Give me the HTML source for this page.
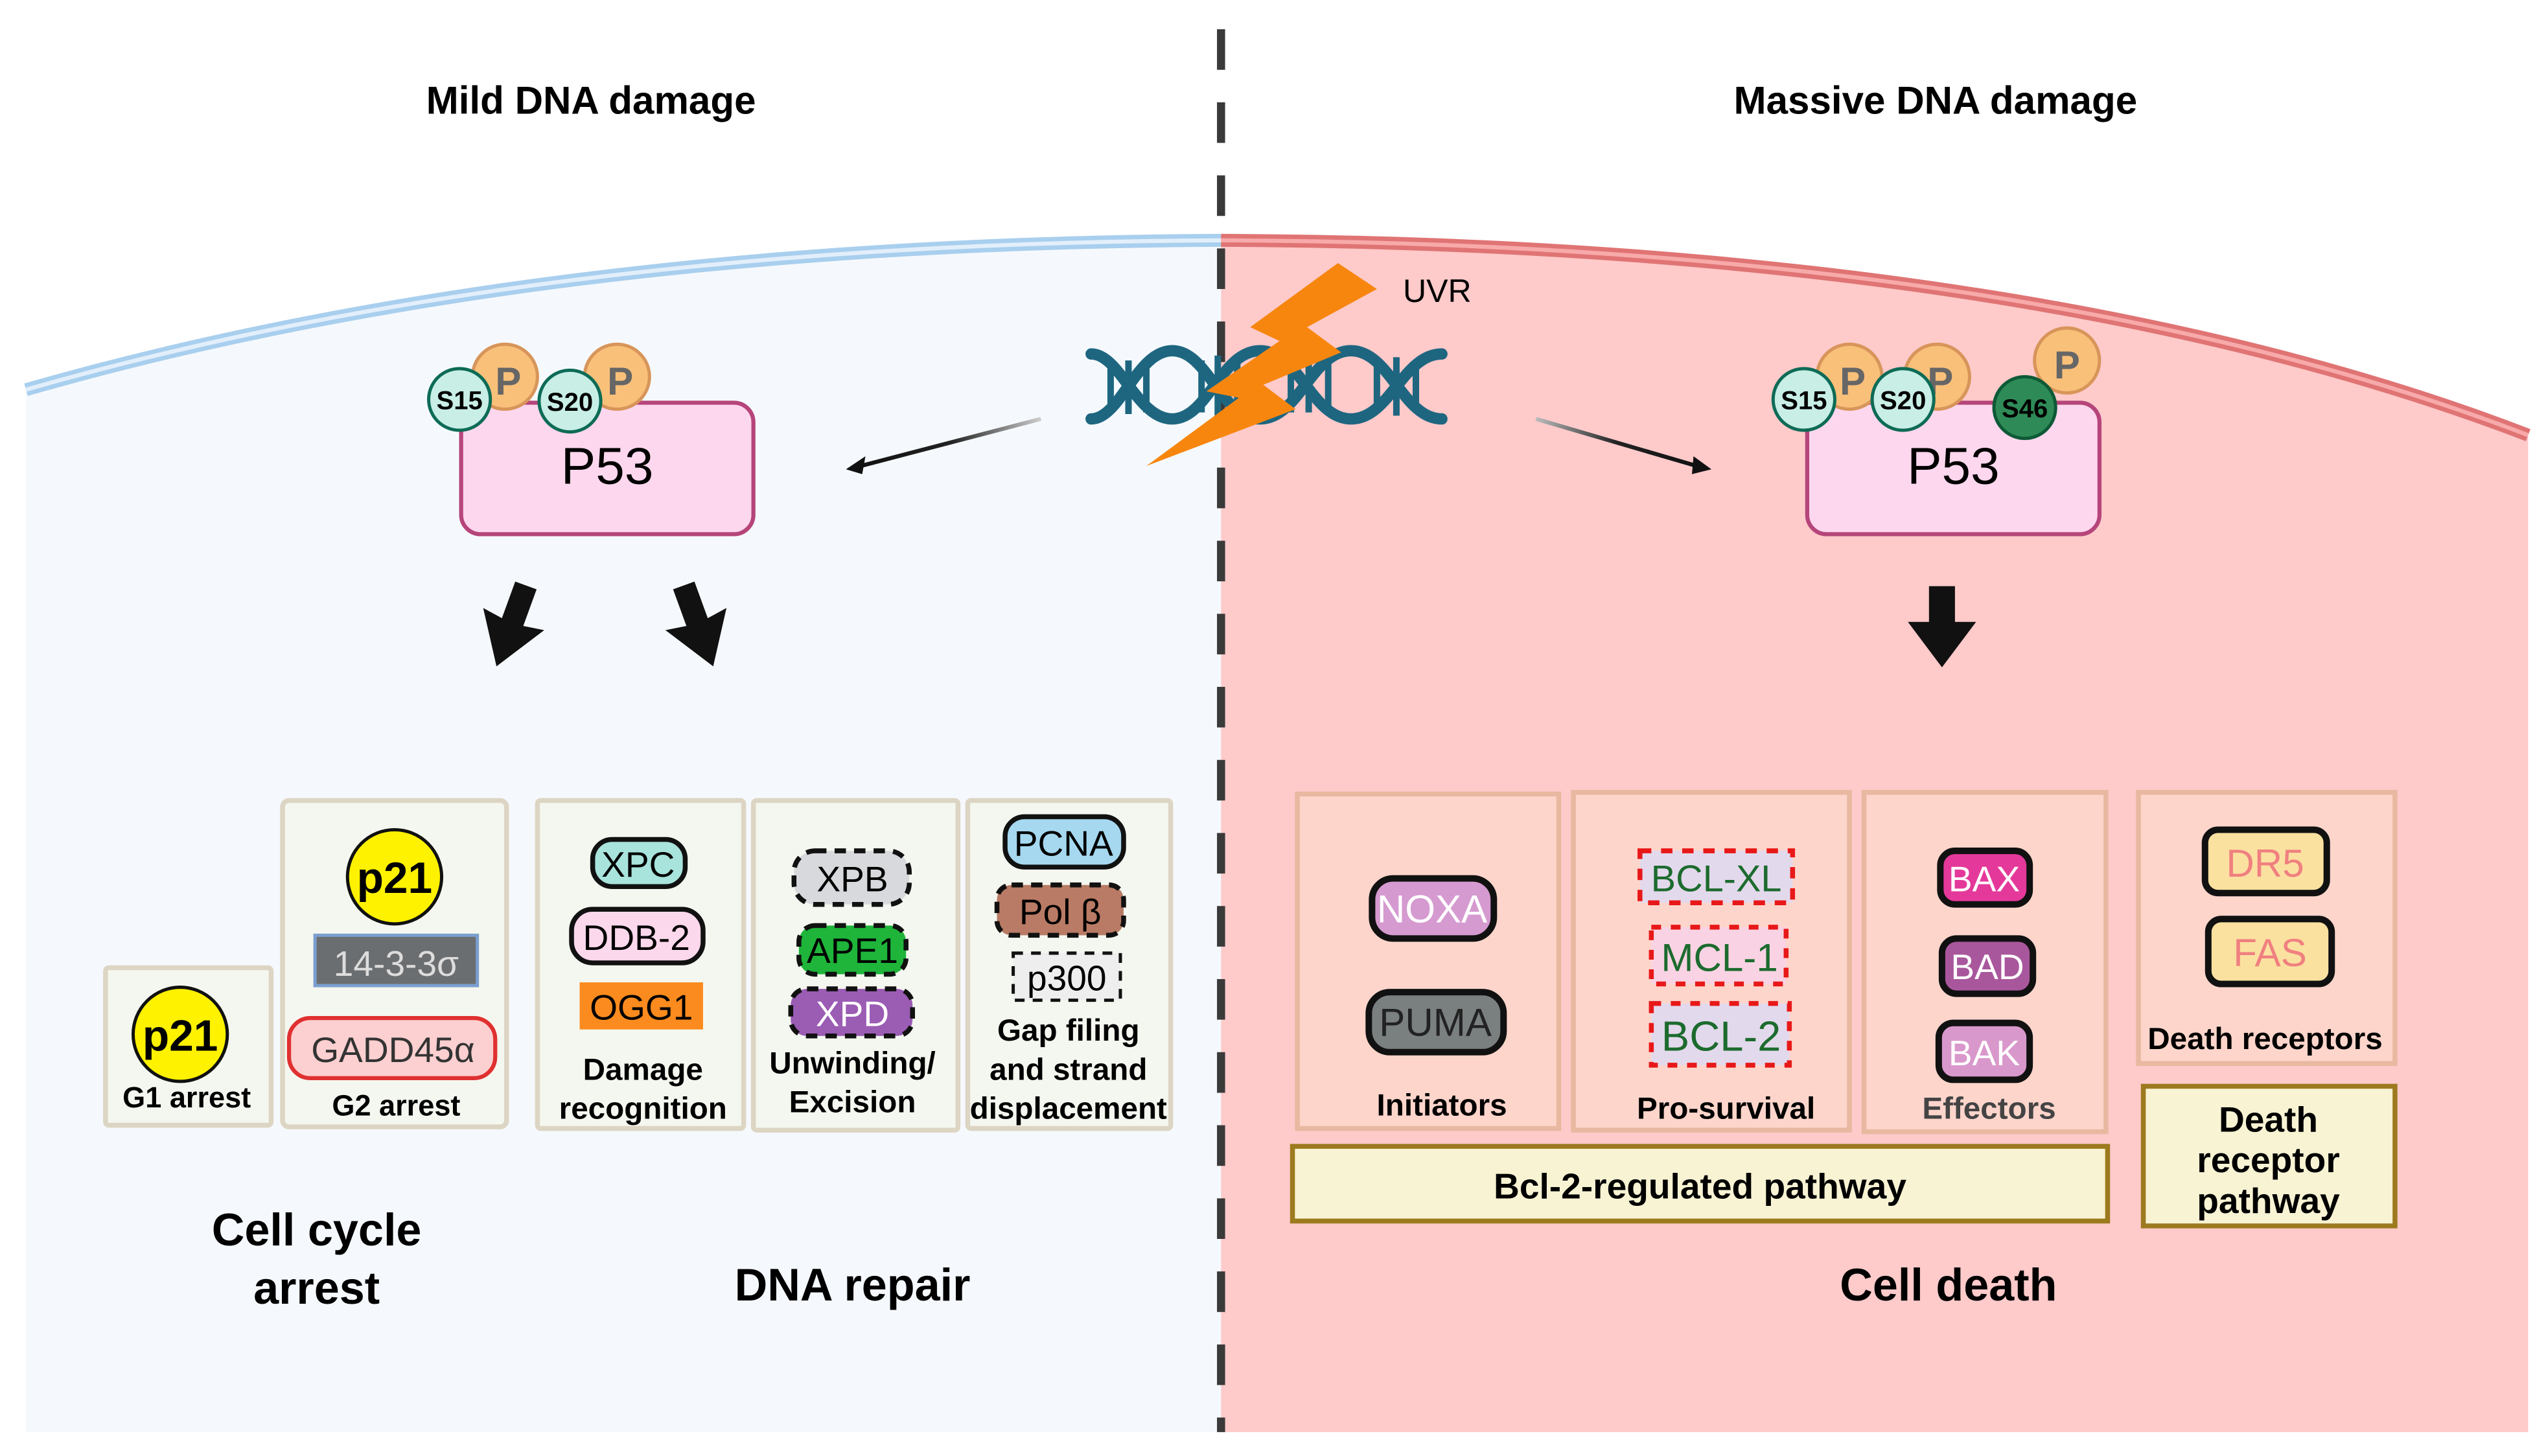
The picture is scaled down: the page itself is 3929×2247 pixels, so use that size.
<!DOCTYPE html>
<html><head><meta charset="utf-8"><style>
html,body{margin:0;padding:0;background:#fff;}
svg{display:block;}
text{font-family:"Liberation Sans Narrow","Liberation Sans",sans-serif;}
</style></head><body>
<svg width="3929" height="2247" viewBox="0 0 1568 896.7" preserveAspectRatio="none" xmlns="http://www.w3.org/2000/svg">
<defs>
<linearGradient id="gl" x1="1" y1="0" x2="0" y2="0"><stop offset="0" stop-color="#ccc"/><stop offset="0.5" stop-color="#222"/><stop offset="1" stop-color="#111"/></linearGradient>
<linearGradient id="gr" x1="0" y1="0" x2="1" y2="0"><stop offset="0" stop-color="#bbb"/><stop offset="0.5" stop-color="#222"/><stop offset="1" stop-color="#111"/></linearGradient>
</defs>
<rect width="1568" height="897" fill="#fff"/>
<!-- cell regions -->
<path d="M16,240 Q330,150 752,148 L752,882 L16,882 Z" fill="#f5f9fd"/>
<path d="M752,148 Q1250,150 1557,268 L1557,882 L752,882 Z" fill="#fecaca"/>
<path d="M16,240 Q330,150 752,148" fill="none" stroke="#a9cfee" stroke-width="8"/>
<path d="M16,240 Q330,150 752,148" fill="none" stroke="#e2effb" stroke-width="2.5"/>
<path d="M752,148 Q1250,150 1557,268" fill="none" stroke="#e07474" stroke-width="8"/>
<path d="M752,148 Q1250,150 1557,268" fill="none" stroke="#f8aaaa" stroke-width="2.5"/>
<!-- dashed divider -->
<line x1="752" y1="18" x2="752" y2="882" stroke="#3a3a3a" stroke-width="5" stroke-dasharray="25,20"/>
<!-- titles -->
<text x="364" y="70" font-size="24" font-weight="bold" text-anchor="middle">Mild DNA damage</text>
<text x="1192" y="70" font-size="24" font-weight="bold" text-anchor="middle">Massive DNA damage</text>
<!-- DNA -->
<g fill="none" stroke="#1e6680" stroke-width="7" stroke-linecap="round">
<path d="M672,218 C690,218 700,258 722,258 C744,258 752,216 776,216 C800,216 808,258 832,258 C856,258 864,218 888,218"/>
<path d="M672,258 C690,258 700,216 722,216 C744,216 752,258 776,258 C800,258 808,216 832,216 C856,216 864,258 888,258"/>
</g>
<g stroke="#1e6680" stroke-width="4">
<line x1="684" y1="226" x2="684" y2="250"/><line x1="695" y1="222" x2="695" y2="255"/><line x1="706" y1="222" x2="706" y2="254"/>
<line x1="740" y1="222" x2="740" y2="254"/><line x1="750" y1="219" x2="750" y2="256"/><line x1="762" y1="222" x2="762" y2="254"/>
<line x1="795" y1="222" x2="795" y2="254"/><line x1="806" y1="222" x2="806" y2="254"/><line x1="818" y1="222" x2="818" y2="254"/>
<line x1="848" y1="222" x2="848" y2="254"/><line x1="860" y1="220" x2="860" y2="256"/><line x1="872" y1="224" x2="872" y2="252"/>
</g>
<!-- lightning -->
<polygon points="824,162 848,178 805,201.5 826,217 778,237 798,252 706,287 763,245 743,241 788,210 770,201.5" fill="#f7860f"/>
<text x="864" y="186" font-size="20">UVR</text>
<!-- thin arrows -->
<line x1="641" y1="258" x2="530" y2="287" stroke="url(#gl)" stroke-width="2.5"/>
<polygon points="521,289 533,281 531,292" fill="#111"/>
<line x1="946" y1="258" x2="1045" y2="287" stroke="url(#gr)" stroke-width="2.5"/>
<polygon points="1054,289 1043,281 1042,292" fill="#111"/>
<!-- P53 left -->
<rect x="284" y="248" width="180" height="81" rx="12" fill="#fdd7ee" stroke="#b5457a" stroke-width="2.5"/>
<text x="374" y="298" font-size="32" text-anchor="middle">P53</text>
<circle cx="311" cy="232" r="20" fill="#f9c07a" stroke="#d8955a" stroke-width="2"/>
<text x="313" y="243" font-size="24" font-weight="bold" fill="#666" text-anchor="middle">P</text>
<circle cx="380" cy="232" r="20" fill="#f9c07a" stroke="#d8955a" stroke-width="2"/>
<text x="382" y="243" font-size="24" font-weight="bold" fill="#666" text-anchor="middle">P</text>
<circle cx="283" cy="246" r="19" fill="#c8eee6" stroke="#0d6b56" stroke-width="2"/>
<text x="283" y="252" font-size="16" font-weight="bold" text-anchor="middle">S15</text>
<circle cx="351" cy="247" r="19" fill="#c8eee6" stroke="#0d6b56" stroke-width="2"/>
<text x="351" y="253" font-size="16" font-weight="bold" text-anchor="middle">S20</text>
<!-- P53 right -->
<rect x="1113" y="248" width="180" height="81" rx="12" fill="#fdd7ee" stroke="#b5457a" stroke-width="2.5"/>
<text x="1203" y="298" font-size="32" text-anchor="middle">P53</text>
<circle cx="1139" cy="232" r="20" fill="#f9c07a" stroke="#d8955a" stroke-width="2"/>
<text x="1141" y="243" font-size="24" font-weight="bold" fill="#666" text-anchor="middle">P</text>
<circle cx="1193" cy="232" r="20" fill="#f9c07a" stroke="#d8955a" stroke-width="2"/>
<text x="1195" y="243" font-size="24" font-weight="bold" fill="#666" text-anchor="middle">P</text>
<circle cx="1273" cy="222" r="20" fill="#f9c07a" stroke="#d8955a" stroke-width="2"/>
<text x="1273" y="233" font-size="24" font-weight="bold" fill="#666" text-anchor="middle">P</text>
<circle cx="1111" cy="246" r="19" fill="#c8eee6" stroke="#0d6b56" stroke-width="2"/>
<text x="1111" y="252" font-size="16" font-weight="bold" text-anchor="middle">S15</text>
<circle cx="1172" cy="246" r="19" fill="#c8eee6" stroke="#0d6b56" stroke-width="2"/>
<text x="1172" y="252" font-size="16" font-weight="bold" text-anchor="middle">S20</text>
<circle cx="1247" cy="251" r="19" fill="#2e8b57" stroke="#0d5a36" stroke-width="2"/>
<text x="1247" y="257" font-size="16" font-weight="bold" text-anchor="middle">S46</text>
<!-- block arrows -->
<g fill="#111">
<polygon transform="translate(315,385) rotate(20)" points="-7,-26 7,-26 7,-2 20,-4 0,27 -20,-4 -7,-2"/>
<polygon transform="translate(430,385) rotate(-20)" points="-7,-26 7,-26 7,-2 20,-4 0,27 -20,-4 -7,-2"/>
<polygon transform="translate(1196,385)" points="-8,-24 8,-24 8,-2 21,-2 0,26 -21,-2 -8,-2"/>
</g>
<!-- left boxes -->
<g fill="#f4f7ef" stroke="#ddd5c3" stroke-width="3">
<rect x="65" y="596" width="102" height="97" rx="2"/>
<rect x="174" y="493" width="138" height="201" rx="4"/>
<rect x="331" y="493" width="127" height="202" rx="2"/>
<rect x="464" y="493" width="126" height="203" rx="2"/>
<rect x="596" y="493" width="125" height="202" rx="2"/>
</g>
<!-- G1 -->
<circle cx="111" cy="637" r="29" fill="#fff200" stroke="#111" stroke-width="2"/>
<text x="111" y="647" font-size="27" font-weight="bold" text-anchor="middle">p21</text>
<text x="115" y="682" font-size="18" font-weight="bold" text-anchor="middle">G1 arrest</text>
<!-- G2 -->
<circle cx="243" cy="540" r="29" fill="#fff200" stroke="#111" stroke-width="2"/>
<text x="243" y="550" font-size="27" font-weight="bold" text-anchor="middle">p21</text>
<rect x="194" y="576" width="100" height="31" fill="#6b6e70" stroke="#7a9fcf" stroke-width="2"/>
<text x="244" y="601" font-size="22" fill="#ddd" text-anchor="middle">14-3-3σ</text>
<rect x="178" y="627" width="127" height="37" rx="13" fill="#fccfd0" stroke="#e03030" stroke-width="2.5"/>
<text x="242" y="654" font-size="22" fill="#333" text-anchor="middle">GADD45α</text>
<text x="244" y="687" font-size="18" font-weight="bold" text-anchor="middle">G2 arrest</text>
<!-- Damage recognition -->
<rect x="365" y="517" width="57" height="29" rx="12" fill="#a8e3dc" stroke="#111" stroke-width="3"/>
<text x="393" y="540" font-size="22" text-anchor="middle">XPC</text>
<rect x="352" y="560" width="81" height="33" rx="13" fill="#fcd8ec" stroke="#111" stroke-width="3"/>
<text x="392" y="585" font-size="22" text-anchor="middle">DDB-2</text>
<rect x="357" y="605" width="76" height="29" fill="#fb8b1e"/>
<text x="395" y="628" font-size="22" text-anchor="middle">OGG1</text>
<text x="396" y="665" font-size="19" font-weight="bold" text-anchor="middle">Damage</text>
<text x="396" y="689" font-size="19" font-weight="bold" text-anchor="middle">recognition</text>
<!-- Unwinding -->
<rect x="489" y="524" width="71" height="33" rx="13" fill="#d7d9dc" stroke="#111" stroke-width="3" stroke-dasharray="7,5"/>
<text x="525" y="549" font-size="22" text-anchor="middle">XPB</text>
<rect x="492" y="570" width="66" height="30" rx="10" fill="#1eb53a" stroke="#111" stroke-width="3" stroke-dasharray="7,5"/>
<text x="525" y="593" font-size="22" text-anchor="middle">APE1</text>
<rect x="487" y="609" width="75" height="29" rx="10" fill="#9b5cb4" stroke="#111" stroke-width="3" stroke-dasharray="7,5"/>
<text x="525" y="632" font-size="22" fill="#fff" text-anchor="middle">XPD</text>
<text x="525" y="661" font-size="19" font-weight="bold" text-anchor="middle">Unwinding/</text>
<text x="525" y="685" font-size="19" font-weight="bold" text-anchor="middle">Excision</text>
<!-- Gap -->
<rect x="619" y="503" width="73" height="31" rx="12" fill="#a6d8f0" stroke="#111" stroke-width="3"/>
<text x="655" y="527" font-size="22" text-anchor="middle">PCNA</text>
<rect x="614" y="545" width="78" height="31" rx="9" fill="#b97b65" stroke="#111" stroke-width="3" stroke-dasharray="7,5"/>
<text x="653" y="569" font-size="22" text-anchor="middle">Pol β</text>
<rect x="624" y="587" width="66" height="29" fill="#eeeeee" stroke="#111" stroke-width="2" stroke-dasharray="6,5"/>
<text x="657" y="610" font-size="22" text-anchor="middle">p300</text>
<text x="658" y="641" font-size="19" font-weight="bold" text-anchor="middle">Gap filing</text>
<text x="658" y="665" font-size="19" font-weight="bold" text-anchor="middle">and strand</text>
<text x="658" y="689" font-size="19" font-weight="bold" text-anchor="middle">displacement</text>
<!-- left big labels -->
<text x="195" y="767" font-size="28" font-weight="bold" text-anchor="middle">Cell cycle</text>
<text x="195" y="803" font-size="28" font-weight="bold" text-anchor="middle">arrest</text>
<text x="525" y="801" font-size="28" font-weight="bold" text-anchor="middle">DNA repair</text>
<!-- right boxes -->
<g fill="#fdd5cb" stroke="#e8b8a0" stroke-width="3">
<rect x="799" y="489" width="161" height="206"/>
<rect x="969" y="488" width="170" height="208"/>
<rect x="1148" y="488" width="149" height="209"/>
<rect x="1317" y="488" width="158" height="167"/>
</g>
<rect x="796" y="706" width="502" height="46" fill="#f7f3d3" stroke="#9c7a1e" stroke-width="3"/>
<text x="1047" y="738" font-size="22" font-weight="bold" text-anchor="middle">Bcl-2-regulated pathway</text>
<rect x="1320" y="669" width="155" height="86" fill="#f7f3d3" stroke="#9c7a1e" stroke-width="3"/>
<text x="1397" y="697" font-size="22" font-weight="bold" text-anchor="middle">Death</text>
<text x="1397" y="722" font-size="22" font-weight="bold" text-anchor="middle">receptor</text>
<text x="1397" y="747" font-size="22" font-weight="bold" text-anchor="middle">pathway</text>
<!-- Initiators -->
<rect x="845" y="541" width="75" height="37" rx="13" fill="#d59ad0" stroke="#111" stroke-width="4"/>
<text x="882" y="568" font-size="24" fill="#fff" text-anchor="middle">NOXA</text>
<rect x="843" y="611" width="83" height="37" rx="13" fill="#7a7f80" stroke="#111" stroke-width="4"/>
<text x="884" y="638" font-size="24" fill="#222" text-anchor="middle">PUMA</text>
<text x="888" y="687" font-size="19" font-weight="bold" text-anchor="middle">Initiators</text>
<!-- Pro-survival -->
<rect x="1010" y="524" width="94" height="32" fill="#e3d9ec" stroke="#e81818" stroke-width="3" stroke-dasharray="7,6"/>
<text x="1057" y="549" font-size="23" fill="#1c6b2e" text-anchor="middle">BCL-XL</text>
<rect x="1017" y="571" width="83" height="35" fill="#f9d3e3" stroke="#e81818" stroke-width="3" stroke-dasharray="6,6"/>
<text x="1059" y="598" font-size="24" fill="#1c6b2e" text-anchor="middle">MCL-1</text>
<rect x="1017" y="618" width="85" height="38" fill="#e3d9ec" stroke="#e81818" stroke-width="3" stroke-dasharray="6,6"/>
<text x="1060" y="647" font-size="26" fill="#1c6b2e" text-anchor="middle">BCL-2</text>
<text x="1063" y="689" font-size="19" font-weight="bold" text-anchor="middle">Pro-survival</text>
<!-- Effectors -->
<rect x="1195" y="524" width="55" height="33" rx="9" fill="#e4399a" stroke="#111" stroke-width="4"/>
<text x="1222" y="549" font-size="22" fill="#fff" text-anchor="middle">BAX</text>
<rect x="1196" y="578" width="56" height="34" rx="9" fill="#a9579c" stroke="#111" stroke-width="4"/>
<text x="1224" y="603" font-size="22" fill="#fff" text-anchor="middle">BAD</text>
<rect x="1194" y="630" width="56" height="35" rx="9" fill="#d998cb" stroke="#111" stroke-width="4"/>
<text x="1222" y="656" font-size="22" fill="#fff" text-anchor="middle">BAK</text>
<text x="1225" y="689" font-size="19" font-weight="bold" fill="#444" text-anchor="middle">Effectors</text>
<!-- Death receptors -->
<rect x="1358" y="511" width="75" height="39" rx="8" fill="#fbe1a0" stroke="#111" stroke-width="4"/>
<text x="1395" y="540" font-size="24" fill="#f08080" text-anchor="middle">DR5</text>
<rect x="1360" y="566" width="76" height="40" rx="8" fill="#fbe1a0" stroke="#111" stroke-width="4"/>
<text x="1398" y="595" font-size="24" fill="#f08080" text-anchor="middle">FAS</text>
<text x="1395" y="646" font-size="19" font-weight="bold" text-anchor="middle">Death receptors</text>
<text x="1200" y="801" font-size="28" font-weight="bold" text-anchor="middle">Cell death</text>
</svg>
</body></html>
